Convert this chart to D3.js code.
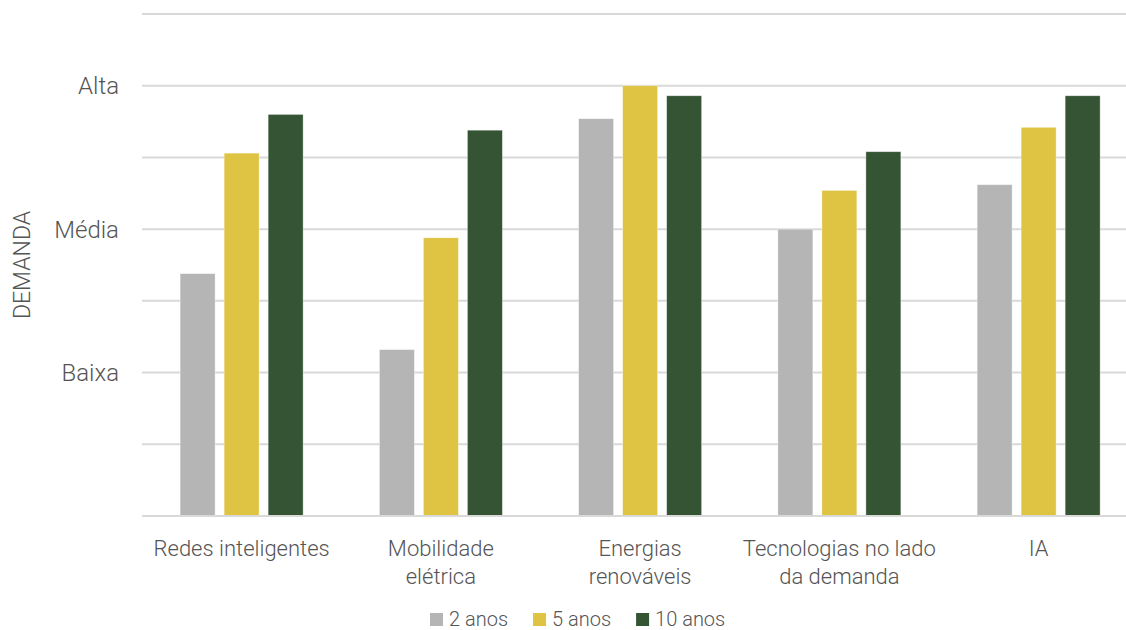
<!DOCTYPE html>
<html>
<head>
<meta charset="utf-8">
<script src="https://cdn.jsdelivr.net/npm/d3@7/dist/d3.min.js"></script>
<style>
  html, body { margin: 0; padding: 0; background: #fff; overflow: hidden; }
  svg text { font-family: Roboto, "Noto Sans", sans-serif; font-weight: 300; fill: #555555; }
</style>
</head>
<body>
<svg id="chart" width="1126" height="630"></svg>
<script>
// Demand level by technology area and time horizon (1 = Baixa, 2 = Média, 3 = Alta)
const categories = ["Redes inteligentes", "Mobilidade elétrica", "Energias renováveis", "Tecnologias no lado da demanda", "IA"];
const categoryLines = [["Redes inteligentes"], ["Mobilidade", "elétrica"], ["Energias", "renováveis"], ["Tecnologias no lado", "da demanda"], ["IA"]];
const seriesNames = ["2 anos", "5 anos", "10 anos"];
const seriesColors = ["#b4b5b4", "#dfc342", "#345433"];
const values2 = [1.69, 1.16, 2.77, 2.00, 2.31];
const values5 = [2.53, 1.94, 3.00, 2.27, 2.71];
const values10 = [2.80, 2.69, 2.93, 2.54, 2.93];
const tickValues = [1, 2, 3];
const tickLabels = ["Baixa", "Média", "Alta"];
const gridValues = [0.5, 1, 1.5, 2, 2.5, 3, 3.5];

const series = [values2, values5, values10];
const svg = d3.select("#chart");

const plotLeft = 142, plotRight = 1138.25, plotTop = 14, plotBottom = 516;

const x0 = d3.scaleBand().domain(categories).range([plotLeft, plotRight]).padding(0);
const groupWidth = 123;
const x1 = d3.scaleBand().domain(seriesNames).range([0, groupWidth]).paddingInner(0.205).paddingOuter(0);
const y = d3.scaleLinear().domain([0, 3.5]).range([plotBottom, plotTop]);

// horizontal gridlines
svg.append("g").selectAll("line").data(gridValues).join("line")
  .attr("x1", plotLeft).attr("x2", plotRight)
  .attr("y1", d => y(d)).attr("y2", d => y(d))
  .attr("stroke", "#d9d9d9").attr("stroke-width", 2);

// bars
const groups = svg.append("g").selectAll("g").data(categories).join("g")
  .attr("transform", d => `translate(${x0(d) + (x0.bandwidth() - groupWidth) / 2},0)`);

groups.selectAll("rect").data((c, i) => seriesNames.map((s, k) => ({ s, k, v: series[k][i] })))
  .join("rect")
  .attr("x", d => x1(d.s))
  .attr("width", x1.bandwidth())
  .attr("y", d => y(d.v))
  .attr("height", d => y(0) - y(d.v))
  .attr("fill", d => seriesColors[d.k])
  .attr("stroke", "#ffffff").attr("stroke-opacity", 0.5).attr("stroke-width", 0.75);

// baseline
svg.append("line")
  .attr("x1", plotLeft).attr("x2", plotRight).attr("y1", y(0)).attr("y2", y(0))
  .attr("stroke", "#d9d9d9").attr("stroke-width", 2);

// y tick labels
svg.append("g").selectAll("text").data(tickValues).join("text")
  .attr("x", 119).attr("y", d => y(d))
  .attr("dy", "0.35em")
  .attr("text-anchor", "end")
  .style("font-size", "24px")
  .text((d, i) => tickLabels[i]);

// y axis title
svg.append("text")
  .attr("transform", `translate(30,265) rotate(-90)`)
  .attr("text-anchor", "middle")
  .style("font-size", "23px")
  .text("DEMANDA");

// category labels
const catText = svg.append("g").selectAll("text").data(categories).join("text")
  .attr("text-anchor", "middle")
  .style("font-size", "22px")
  .attr("x", d => x0(d) + x0.bandwidth() / 2)
  .attr("y", 556);
catText.selectAll("tspan").data((d, i) => categoryLines[i]).join("tspan")
  .attr("x", function () { return d3.select(this.parentNode).attr("x"); })
  .attr("dy", (d, i) => i === 0 ? 0 : 28)
  .text(d => d);

// legend
const legend = svg.append("g");
const items = legend.selectAll("g").data(seriesNames).join("g");
items.append("rect").attr("width", 13).attr("height", 13).attr("y", -13)
  .attr("fill", (d, i) => seriesColors[i]);
items.append("text").attr("x", 19).attr("y", 0)
  .style("font-size", "20px")
  .text(d => d);
const widths = items.nodes().map(n => n.getBBox().width);
const gap = 25;
let start = 430;
items.attr("transform", (d, i) => {
  const t = `translate(${start},626)`;
  start += widths[i] + gap;
  return t;
});
</script>
</body>
</html>
